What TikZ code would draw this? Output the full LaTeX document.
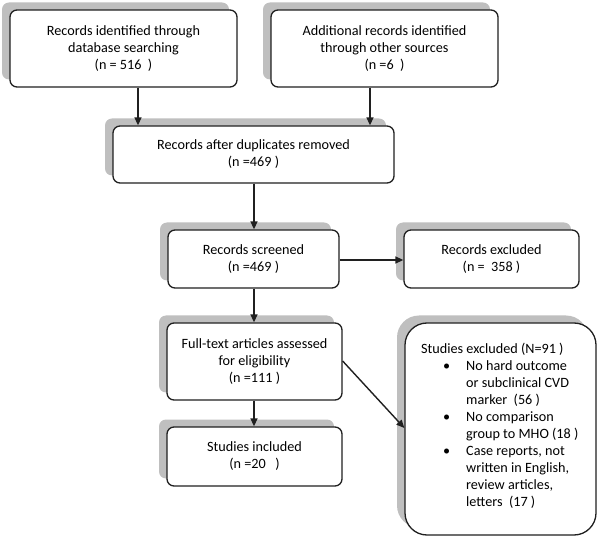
\documentclass[tikz,border=0pt]{standalone}
\usepackage{fontspec}
\setmainfont{Carlito}
\usetikzlibrary{shadows,arrows.meta}
\definecolor{shadowgray}{HTML}{BFBFBF}
\definecolor{linegray}{HTML}{202020}
\begin{document}
\begin{tikzpicture}[x=1pt,y=-1pt,
  font=\fontsize{14.2}{17}\selectfont,
  box/.style={draw=linegray, line width=1.3pt, fill=white, rounded corners=7pt,
    align=center, inner sep=0pt,
    general shadow={fill=shadowgray, shadow xshift=-8pt, shadow yshift=7.5pt, opacity=1}},
  conn/.style={draw=linegray, line width=1.4pt, -{Triangle[length=8pt,width=7pt]}}]
\useasboundingbox (0,0) rectangle (600,537);
\node[box, minimum width=227pt, minimum height=77pt] (A) at (123.5,48.5)
  {Records identified through\\database searching\\(n = 516\ \ )};
\node[box, minimum width=227pt, minimum height=77pt] (B) at (384.5,48.5)
  {Additional records identified\\through other sources\\(n =6\ \ )};
\node[box, minimum width=281pt, minimum height=57pt] (C) at (253.5,154.5)
  {Records after duplicates removed\\(n =469 )};
\node[box, minimum width=171pt, minimum height=58pt] (D) at (253.5,259)
  {Records screened\\(n =469 )};
\node[box, minimum width=175pt, minimum height=58pt] (E) at (491.5,259)
  {Records excluded\\(n =\ \ 358 )};
\node[box, minimum width=175pt, minimum height=77pt] (F) at (254.5,361.5)
  {Full-text articles assessed\\for eligibility\\(n =111 )};
\node[box, minimum width=175pt, minimum height=59pt] (G) at (254.5,456.5)
  {Studies included\\(n =20\ \ \ )};
\node[box, rounded corners=22pt, minimum width=191pt, minimum height=212pt] (H) at (500.5,429) {};
\node[anchor=north west, inner sep=0pt, align=left] (Ht) at (421,341)
  {\begin{tabular}{@{}p{45pt}@{}l@{}}
   \multicolumn{2}{@{}l@{}}{Studies excluded (N=91 )}\\
   \hspace*{22pt}\textbullet & No hard outcome\\
   & or subclinical CVD\\
   & marker\ \ (56 )\\
   \hspace*{22pt}\textbullet & No comparison\\
   & group to MHO (18 )\\
   \hspace*{22pt}\textbullet & Case reports, not\\
   & written in English,\\
   & review articles,\\
   & letters\ \ (17 )
   \end{tabular}};
\coordinate (a1) at (138,87);
\draw[conn] (A.south -| a1) -- (C.north -| a1);
\coordinate (b1) at (370,87);
\draw[conn] (B.south -| b1) -- (C.north -| b1);
\coordinate (c1) at (254,183);
\draw[conn] (C.south -| c1) -- (D.north -| c1);
\coordinate (d1) at (339,260);
\draw[conn] (D.east |- d1) -- (E.west |- d1);
\draw[conn] (D.south -| c1) -- (F.north -| c1);
\draw[conn] (F.south -| c1) -- (G.north -| c1);
\coordinate (f1) at (342,361);
\coordinate (h1) at (405,428);
\draw[conn] (F.east |- f1) -- (H.west |- h1);
\end{tikzpicture}
\end{document}
